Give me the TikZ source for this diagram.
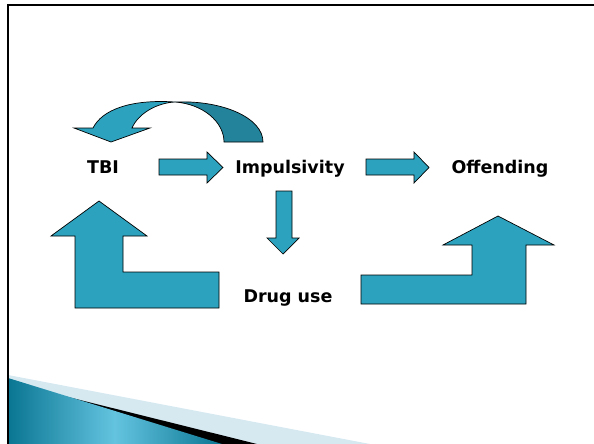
\documentclass[tikz,border=0pt]{standalone}
\usepackage{fontspec}
\setmainfont{DejaVu Sans}
\definecolor{arrowteal}{RGB}{44,162,191}
\definecolor{backteal}{RGB}{35,131,155}
\definecolor{swdark}{RGB}{10,118,146}
\definecolor{swlight}{RGB}{100,196,224}
\definecolor{swpale}{RGB}{214,233,241}
\tikzset{
  blockarrow/.style={fill=arrowteal, draw=black, line width=0.7pt, line join=miter},
  backface/.style={fill=backteal, draw=black, line width=0.7pt},
  lbl/.style={font=\bfseries\fontsize{17.5}{20}\selectfont, anchor=base, inner sep=0pt},
}
\begin{document}
\begin{tikzpicture}[x=1pt,y=-1pt]
\useasboundingbox (0,0) rectangle (594,444);
% bottom-left swoosh
\fill[swpale] (8,375) -- (370,444) -- (8,444) -- cycle;
\fill[black] (60,395) -- (257,444) -- (200,444) -- cycle;
\begin{scope}
  \clip (8,378) -- (222,444) -- (8,444) -- cycle;
  \shade[left color=swdark, right color=swlight] (8,370) rectangle (115,444);
  \shade[left color=swlight, right color=swdark] (114.5,370) rectangle (222,444);
\end{scope}
% frame
\draw[line width=2.5pt, line cap=rect] (8,444) -- (8,5) -- (594,5);
% curved arrow (back face, then front face)
\draw[backface] (175,102) .. controls (223,100) and (263,118) .. (263,142)
  -- (224,142) .. controls (224,122) and (203,104) .. (175,102) -- cycle;
\draw[blockarrow] (74,128) -- (93,128) .. controls (102,110) and (130,99) .. (175,102)
  .. controls (156,103) and (138,114) .. (132,128) -- (150,128) -- (111,142) -- cycle;
% labels
\node[lbl] (tbi) at (103,173) {TBI};
\node[lbl] (imp) at (290,173) {Impulsivity};
\node[lbl] (off) at (500,173) {Offending};
\node[lbl] (drug) at (288,302) {Drug use};
% straight arrows
\draw[blockarrow] (159,159) -- (207,159) -- (207,152) -- (223,167.5) -- (207,183)
  -- (207,175) -- (159,175) -- cycle;
\draw[blockarrow] (366,159) -- (414,159) -- (414,152) -- (429,167.5) -- (414,183)
  -- (414,175) -- (366,175) -- cycle;
\draw[blockarrow] (276,191) -- (292,191) -- (292,238) -- (299,238) -- (283,254)
  -- (267,238) -- (276,238) -- cycle;
% L-shaped arrows
\draw[blockarrow] (99,201) -- (147,236) -- (123,236) -- (123,272) -- (219,272)
  -- (219,308) -- (75,308) -- (75,236) -- (51,236) -- cycle;
\draw[blockarrow] (498,216) -- (554,245) -- (526,245) -- (526,304) -- (361,304)
  -- (361,275) -- (472,275) -- (472,245) -- (443,245) -- cycle;
\end{tikzpicture}
\end{document}
